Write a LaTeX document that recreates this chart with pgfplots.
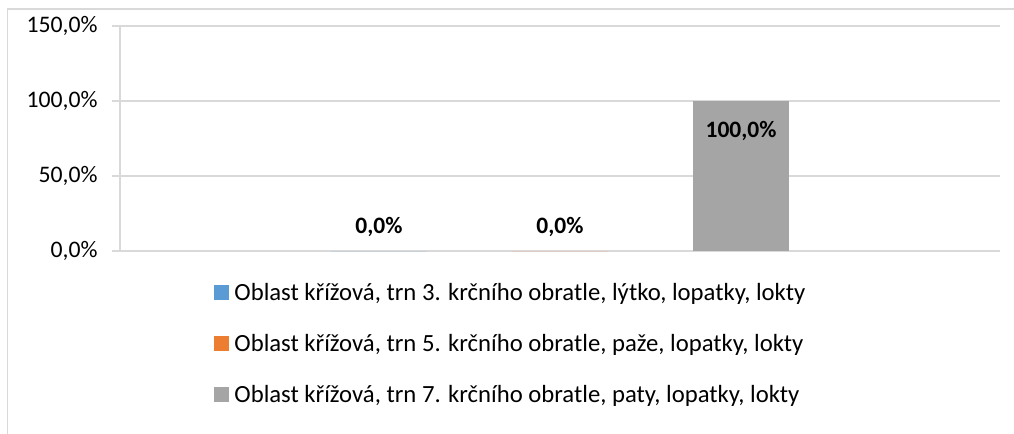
\documentclass[border=0pt]{standalone}
\usepackage{pgfplots}
\pgfplotsset{compat=1.18}
\usepackage{fontspec}
\setmainfont{Carlito}
\definecolor{cblue}{HTML}{5B9BD5}
\definecolor{corange}{HTML}{ED7D31}
\definecolor{cgray}{HTML}{A5A5A5}
\definecolor{gridc}{HTML}{D9D9D9}
\begin{document}
\begin{tikzpicture}
\useasboundingbox (0,0) rectangle (1014bp,-434bp);
\draw[gridc, line width=1.6bp] (7.5bp,-440bp) -- (7.5bp,-9bp) -- (1020bp,-9bp);
\begin{axis}[
  at={(120bp,-251bp)}, anchor=south west,
  scale only axis, width=880bp, height=225bp,
  xmin=-2.43, xmax=2.43, ymin=0, ymax=150,
  ytick={0,50,100,150},
  yticklabels={{0,0\%},{50,0\%},{100,0\%},{150,0\%}},
  xtick=\empty,
  ymajorgrids, grid style={gridc, line width=1.3bp},
  axis line style={draw=none},
  tick style={draw=none},
  extra description/.code={
    \draw[gridc, line width=1.3bp] (axis cs:-2.43,0) -- (axis cs:-2.43,150);
    \foreach \v in {0,50,100,150}{\draw[gridc, line width=1.3bp] ([xshift=-8bp]axis cs:-2.43,\v) -- (axis cs:-2.43,\v);}
  },
  yticklabel style={font=\fontsize{23.8pt}{28pt}\selectfont, xshift=-19bp},
  ybar, bar width=0.53, bar shift=0pt,
  nodes near coords,
  nodes near coords style={font=\fontsize{23.6pt}{28pt}\selectfont\bfseries, anchor=base, inner sep=0pt},
  point meta=explicit symbolic,
  legend style={
    at={(0.1065,-0.145)}, anchor=north west, draw=none, fill=none,
    inner sep=0pt, column sep=5bp, row sep=29bp,
    font=\fontsize{24.8pt}{28pt}\selectfont,
    nodes={inner sep=0pt, text height=17bp, text depth=5bp},
  },
  legend cell align=left,
  legend image code/.code={\fill[#1, draw=none] (0bp,-5.5bp) rectangle (15.5bp,10bp);},
]
\addplot[fill=cblue, draw=none, every node near coord/.append style={yshift=18bp}] coordinates {(-1,0) [0,0\%]};
\addplot[fill=corange, draw=none, every node near coord/.append style={yshift=18bp}] coordinates {(0,0) [0,0\%]};
\addplot[fill=cgray, draw=none, every node near coord/.append style={yshift=-36bp}] coordinates {(1,100) [100,0\%]};
\legend{Oblast křížová{,} trn 3. krčního obratle{,} lýtko{,} lopatky{,} lokty,
        Oblast křížová{,} trn 5. krčního obratle{,} paže{,} lopatky{,} lokty,
        Oblast křížová{,} trn 7. krčního obratle{,} paty{,} lopatky{,} lokty}
\end{axis}
\end{tikzpicture}
\end{document}
